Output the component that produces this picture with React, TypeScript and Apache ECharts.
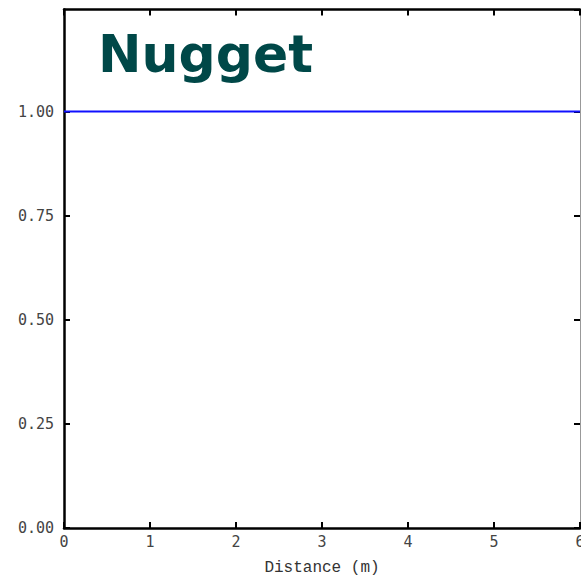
import React, { useEffect, useRef } from "react";
import * as echarts from "echarts";

const xTicks = [0, 1, 2, 3, 4, 5, 6];
const yTicks = [0, 0.25, 0.5, 0.75, 1.0];
const distance = [0, 6];
const semivariance = [1, 1];
const titleText = "Nugget";
const xName = "Distance (m)";

export default function App() {
  const ref = useRef<HTMLDivElement>(null);
  useEffect(() => {
    if (!ref.current) return;
    document.body.style.margin = "0";
    document.body.style.overflow = "hidden";
    const chart = echarts.init(ref.current, null, { renderer: "svg", width: 581, height: 576 });
    const labelFont = {
      fontFamily: "DejaVu Sans Mono",
      fontSize: 15,
      color: "#444",
    };
    const tick = { show: true, inside: true, length: 6, lineStyle: { color: "#000", width: 2 } };
    chart.setOption({
      animation: false,
      backgroundColor: "#fff",
      grid: { left: 64, right: 1, top: 9.5, bottom: 48, containLabel: false, outerBoundsMode: "none" },
      graphic: [
        {
          type: "text",
          left: 98,
          top: 28,
          style: {
            text: titleText,
            fontFamily: "DejaVu Sans",
            fontWeight: "bold",
            fontSize: 52,
            fill: "#004848",
          },
        },
      ],
      xAxis: [
        {
          type: "value",
          min: 0,
          max: 6,
          interval: 1,
          position: "bottom",
          name: xName,
          nameLocation: "middle",
          nameGap: 32,
          nameTextStyle: {
            fontFamily: "Liberation Mono",
            fontSize: 16,
            color: "#333",
          },
          axisLine: { show: true, onZero: false, lineStyle: { color: "#000", width: 2.5 } },
          axisTick: tick,
          axisLabel: { ...labelFont, margin: 6, formatter: (v: number) => (xTicks.includes(v) ? String(v) : "") },
          splitLine: { show: false },
        },
        {
          type: "value",
          min: 0,
          max: 6,
          interval: 1,
          position: "top",
          axisLine: { show: true, onZero: false, lineStyle: { color: "#000", width: 2.5 } },
          axisTick: tick,
          axisLabel: { show: false },
          splitLine: { show: false },
        },
      ],
      yAxis: [
        {
          type: "value",
          min: 0,
          max: 1.245,
          interval: 0.25,
          position: "left",
          axisLine: { show: true, onZero: false, lineStyle: { color: "#000", width: 2.5 } },
          axisTick: tick,
          axisLabel: {
            ...labelFont,
            margin: 10,
            showMaxLabel: false,
            formatter: (v: number) => (yTicks.some((t) => Math.abs(t - v) < 1e-9) ? v.toFixed(2) : ""),
          },
          splitLine: { show: false },
        },
        {
          type: "value",
          min: 0,
          max: 1.245,
          interval: 0.25,
          position: "right",
          axisLine: { show: true, onZero: false, lineStyle: { color: "#999", width: 1 } },
          axisTick: tick,
          axisLabel: { show: false },
          splitLine: { show: false },
        },
      ],
      series: [
        {
          type: "line",
          data: distance.map((d, i) => [d, semivariance[i]]),
          showSymbol: false,
          lineStyle: { color: "#1010ff", width: 2 },
          xAxisIndex: 0,
          yAxisIndex: 0,
        },
      ],
    });
    return () => chart.dispose();
  }, []);
  return (
    <div
      ref={ref}
      style={{ position: "fixed", left: 0, top: 0, width: 581, height: 576 }}
    />
  );
}
